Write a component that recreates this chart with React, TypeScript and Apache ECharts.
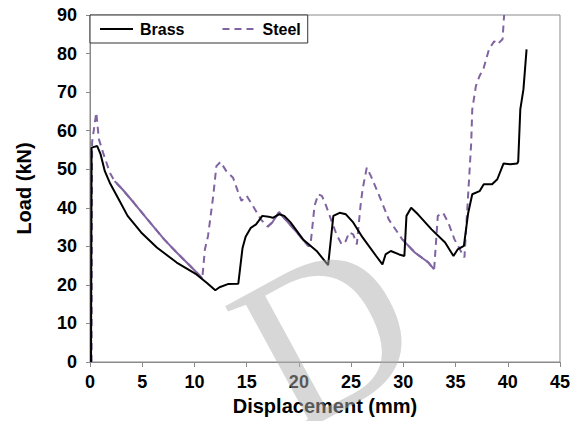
import React, { useEffect, useRef } from "react";
import * as echarts from "echarts";

const brassX = [0.1, 0.15, 0.69, 1.0, 1.42, 1.89, 2.67, 3.6, 4.9, 6.4, 8.3, 10.2, 11.2, 12.0, 12.4, 13.2, 14.2, 14.6, 14.9, 15.4, 15.9, 16.5, 17.1, 17.5, 18.1, 18.6, 19.2, 20.4, 21.7, 22.8, 23.3, 23.9, 24.5, 25.2, 26.1, 27.4, 28.0, 28.3, 28.8, 29.6, 30.1, 30.3, 30.75, 31.4, 32.7, 34.0, 34.8, 35.2, 35.8, 36.2, 36.6, 37.3, 37.7, 38.5, 39.0, 39.6, 40.25, 40.9, 41.0, 41.2, 41.5, 41.8];
const brassY = [0, 55.6, 56.0, 54.0, 49.5, 46.5, 42.6, 37.9, 33.6, 29.7, 25.8, 22.7, 20.5, 18.6, 19.4, 20.2, 20.3, 29.5, 32.5, 34.8, 35.7, 37.9, 37.7, 37.4, 38.3, 37.9, 36.2, 31.8, 28.8, 25.1, 37.9, 38.7, 38.3, 36.2, 32.3, 27.5, 25.3, 27.9, 28.8, 27.9, 27.5, 37.9, 40.0, 38.3, 34.4, 31.0, 27.5, 29.2, 30.1, 38.5, 43.5, 44.3, 46.1, 46.1, 47.4, 51.5, 51.3, 51.5, 52.0, 65.5, 70.7, 81.1];

const steelX = [0.15, 0.2, 0.6, 0.85, 1.25, 1.9, 2.36, 3.1, 4.2, 5.5, 7.1, 8.3, 9.6, 10.4, 10.75, 11.0, 11.3, 11.8, 12.1, 12.5, 13.05, 13.7, 14.15, 14.5, 15.0, 15.6, 16.35, 17.0, 17.45, 18.1, 18.7, 19.8, 20.9, 21.1, 21.5, 21.85, 22.2, 22.5, 23.1, 23.6, 24.1, 24.5, 24.8, 25.2, 25.55, 25.9, 26.1, 26.5, 26.9, 27.7, 28.6, 29.9, 31.1, 32.4, 32.95, 33.3, 33.8, 34.3, 34.9, 35.5, 35.85, 36.2, 36.5, 36.6, 36.95, 37.3, 37.7, 38.2, 38.7, 39.0, 39.5, 39.65];
const steelY = [0, 57.0, 64.7, 57.8, 54.3, 49.1, 46.9, 44.8, 41.3, 37.0, 31.8, 28.4, 24.9, 22.7, 21.7, 29.2, 32.7, 43.1, 50.8, 51.9, 49.5, 47.8, 44.3, 41.8, 43.1, 40.5, 37.0, 35.1, 36.2, 38.9, 37.0, 33.6, 30.1, 30.1, 40.5, 43.5, 43.1, 41.3, 36.8, 33.1, 30.5, 31.4, 33.6, 33.1, 30.5, 40.5, 44.8, 50.4, 48.2, 43.1, 37.0, 31.8, 28.4, 25.8, 24.0, 37.9, 38.7, 36.2, 31.8, 28.8, 27.1, 43.1, 56.9, 65.5, 71.6, 74.2, 76.3, 81.1, 83.2, 82.4, 83.7, 90.0];

const seriesNames = ["Brass", "Steel"];
const xLabel = "Displacement (mm)";
const yLabel = "Load (kN)";

// stretches where the Excel dashed line renders as solid
const solidSteelRanges = [
  [2.3, 10.8],
  [16.9, 21.0],
  [29.8, 33.0],
];

const FONT = "'Liberation Sans', Arial, sans-serif";
const STEEL_COLOR = "#8064A2";

export default function App() {
  const ref = useRef<HTMLDivElement>(null);
  useEffect(() => {
    if (!ref.current) return;
    const chart = echarts.init(ref.current, undefined, { renderer: "svg" });
    const brass = brassX.map((x, i) => [x, brassY[i]]);
    const steel = steelX.map((x, i) => [x, steelY[i]]);
    const overlays = solidSteelRanges.map((r, k) => ({
      name: "steel-solid-" + k,
      type: "line",
      data: steel.filter((p) => p[0] >= r[0] && p[0] <= r[1]),
      showSymbol: false,
      symbol: "none",
      silent: true,
      lineStyle: { color: STEEL_COLOR, width: 2, type: "solid" },
      z: 2,
    }));
    chart.setOption({
      animation: false,
      grid: {
        left: 90,
        right: 6,
        top: 15,
        bottom: 58,
        show: true,
        borderColor: "#8a8a8a",
        borderWidth: 1,
      },
      legend: {
        data: seriesNames,
        left: 90,
        top: 15,
        orient: "horizontal",
        backgroundColor: "#fff",
        borderColor: "#333",
        borderWidth: 1,
        padding: [6, 7, 6, 9],
        itemGap: 37,
        itemWidth: 33,
        itemHeight: 14,
        itemStyle: { opacity: 0 },
        lineStyle: { width: 2 },
        textStyle: { fontFamily: FONT, fontWeight: "bold", fontSize: 16, color: "#000", padding: [0, 0, 0, 2] },
      },
      xAxis: {
        type: "value",
        min: 0,
        max: 45,
        interval: 5,
        name: xLabel,
        nameLocation: "middle",
        nameGap: 34,
        nameTextStyle: { fontFamily: FONT, fontWeight: "bold", fontSize: 20, color: "#000" },
        axisLine: { show: true, lineStyle: { color: "#8a8a8a", width: 1 } },
        axisTick: { show: true, inside: false, length: 5, lineStyle: { color: "#8a8a8a" } },
        axisLabel: { fontFamily: FONT, fontWeight: "bold", fontSize: 18, color: "#000", margin: 11 },
        splitLine: { show: false },
      },
      yAxis: {
        type: "value",
        min: 0,
        max: 90,
        interval: 10,
        name: yLabel,
        nameLocation: "middle",
        nameGap: 56,
        nameRotate: 90,
        nameTextStyle: { fontFamily: FONT, fontWeight: "bold", fontSize: 20, color: "#000" },
        axisLine: { show: true, lineStyle: { color: "#8a8a8a", width: 1 } },
        axisTick: { show: true, inside: false, length: 4, lineStyle: { color: "#8a8a8a" } },
        axisLabel: { fontFamily: FONT, fontWeight: "bold", fontSize: 18, color: "#000", margin: 13 },
        splitLine: { show: false },
      },
      series: [
        {
          name: "Brass",
          type: "line",
          data: brass,
          showSymbol: false,
          symbol: "none",
          lineStyle: { color: "#000", width: 2 },
          itemStyle: { color: "#000" },
          z: 3,
        },
        {
          name: "Steel",
          type: "line",
          data: steel,
          showSymbol: false,
          symbol: "none",
          lineStyle: { color: STEEL_COLOR, width: 2, type: [7, 5] },
          itemStyle: { color: STEEL_COLOR },
          z: 2,
        },
        ...overlays,
      ],
      graphic: [
        {
          type: "text",
          x: 325,
          y: 333,
          rotation: 0.5,
          z: 100,
          silent: true,
          style: {
            text: "D",
            font: "225px 'Liberation Serif', 'DejaVu Serif', serif",
            fill: "#b0b0b0",
            opacity: 0.5,
            textAlign: "center",
            textVerticalAlign: "middle",
          },
        },
      ],
    });
    return () => chart.dispose();
  }, []);
  return (
    <div
      ref={ref}
      style={{ position: "fixed", left: 0, top: 0, width: 573, height: 421, background: "#fff" }}
    />
  );
}
